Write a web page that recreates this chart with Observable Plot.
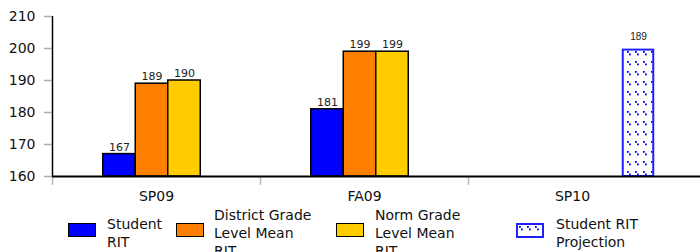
<!DOCTYPE html>
<html>
<head>
<meta charset="utf-8">
<script src="https://cdn.jsdelivr.net/npm/d3@7"></script>
<script src="https://cdn.jsdelivr.net/npm/@observablehq/plot@0.6"></script>
<style>
  html, body { margin: 0; padding: 0; background: #fff; }
  body { width: 700px; height: 252px; overflow: hidden; font-family: "DejaVu Sans", sans-serif; color: #111; }
  #legend { position: relative; height: 54px; }
  .item { position: absolute; top: 0; height: 54px; display: flex; align-items: center; }
  .sw { width: 26px; height: 12px; border: 1.5px solid #000; position: relative; top: -3px; flex: none; }
  .lab { font-size: 14px; line-height: 18px; }
</style>
</head>
<body>
<div id="chart"></div>
<div id="legend"></div>
<script>
// ---- data ----
const categories = ["SP09", "FA09", "SP10"];
const studentRIT = [167, 181, null];
const districtMean = [189, 199, null];
const normMean = [190, 199, null];
const projectionBar = [null, null, 199.5];
const projectionLabel = [null, null, 189];
const yTicks = [160, 170, 180, 190, 200, 210];
const seriesNames = ["Student RIT", "District Grade Level Mean RIT", "Norm Grade Level Mean RIT", "Student RIT Projection"];
const seriesColors = ["#0000ff", "#ff8000", "#ffcc00", "url(#rit-dots)"];

// ---- layout ----
const W = 700, H = 206;
const x0 = 52, x1 = 676;
const bandW = (x1 - x0) / categories.length;
const barW = 32.5;
const shift = -4.5;
const offsets = [-barW + shift, shift, barW + shift];
const inset = (bandW - barW) / 2;

const seriesVals = [studentRIT, districtMean, normMean];
const marks = [];

// vertical axis line and boundary ticks
marks.push(Plot.ruleX([categories[0]], {x: d => d, dx: -bandW / 2, y1: 160, y2: 210, stroke: "#000", strokeWidth: 1.5}));
marks.push(Plot.ruleX(categories, {x: d => d, dx: -bandW / 2, y1: 160, y2: 160, insetBottom: -9, stroke: "#bbb", strokeWidth: 1.5}));

seriesVals.forEach((vals, k) => {
  const rows = categories.map((c, i) => ({cat: c, value: vals[i]})).filter(d => d.value != null);
  marks.push(Plot.barY(rows, {x: "cat", y1: 160, y2: "value", fill: seriesColors[k], stroke: "#000", strokeWidth: 1.5,
    insetLeft: inset, insetRight: inset, dx: offsets[k]}));
  marks.push(Plot.text(rows, {x: "cat", y: "value", text: d => String(d.value), dx: offsets[k], dy: -7,
    fontSize: 11, fill: "#222", fontFamily: "DejaVu Sans"}));
});

const projRows = categories.map((c, i) => ({cat: c, value: projectionBar[i], label: projectionLabel[i]})).filter(d => d.value != null);
const projDx = 66;
marks.push(Plot.barY(projRows, {x: "cat", y1: 160, y2: "value", fill: "url(#rit-dots)", stroke: "#2020ff", strokeWidth: 2,
  insetLeft: inset + 1, insetRight: inset + 1, dx: projDx}));
marks.push(Plot.text(projRows, {x: "cat", y: "value", text: d => String(d.label), dx: projDx, dy: -13,
  fontSize: 10, fill: "#222", fontFamily: "Liberation Sans"}));

marks.push(Plot.ruleY([160], {stroke: "#000", strokeWidth: 2}));
marks.push(Plot.axisY({ticks: yTicks, tickSize: 8, tickPadding: 9, stroke: "#aaa", strokeWidth: 1.5, fill: "#111", fontSize: 14, label: null}));
marks.push(Plot.axisX({tickSize: 0, tickPadding: 15, fontSize: 14, fill: "#111", label: null}));

const chart = Plot.plot({
  width: W, height: H,
  marginLeft: x0, marginRight: 0, marginTop: 16, marginBottom: 30,
  style: {fontFamily: "DejaVu Sans", background: "#fff", overflow: "visible"},
  x: {domain: categories, range: [x0, x1], padding: 0},
  y: {domain: [160, 210], range: [176, 16]},
  marks
});

// dotted pattern for projection bar
const ns = "http://www.w3.org/2000/svg";
const defs = document.createElementNS(ns, "defs");
defs.innerHTML = `<pattern id="rit-dots" patternUnits="userSpaceOnUse" width="8" height="10">
  <rect width="8" height="10" fill="#fff"/>
  <rect x="1" y="1" width="1.8" height="1.8" fill="#0000ff"/>
  <rect x="3" y="3.5" width="1.8" height="1.8" fill="#0000ff"/>
</pattern>`;
chart.insertBefore(defs, chart.firstChild);
document.getElementById("chart").appendChild(chart);

// legend
const legendX = [68, 176, 336, 516];
const textW = [64, 104, 104, 104];
const gaps = [11, 10, 11, 12];
const lg = document.getElementById("legend");
seriesNames.forEach((name, i) => {
  const item = document.createElement("div");
  item.className = "item";
  item.style.left = legendX[i] + "px";
  const sw = document.createElement("div");
  sw.className = "sw";
  if (i === 3) {
    sw.style.border = "2px solid #2020ff";
    sw.style.width = "24px"; sw.style.height = "11px";
    sw.innerHTML = `<svg width="24" height="11" style="display:block"><defs><pattern id="lg-dots" patternUnits="userSpaceOnUse" width="8" height="10"><rect x="1" y="1" width="1.8" height="1.8" fill="#0000ff"/><rect x="3" y="3.5" width="1.8" height="1.8" fill="#0000ff"/></pattern></defs><rect width="24" height="11" fill="url(#lg-dots)"/></svg>`;
  } else {
    sw.style.background = seriesColors[i];
  }
  const lab = document.createElement("div");
  lab.className = "lab";
  lab.style.width = textW[i] + "px";
  lab.style.marginLeft = gaps[i] + "px";
  lab.textContent = name;
  item.appendChild(sw);
  item.appendChild(lab);
  lg.appendChild(item);
});
</script>
</body>
</html>
